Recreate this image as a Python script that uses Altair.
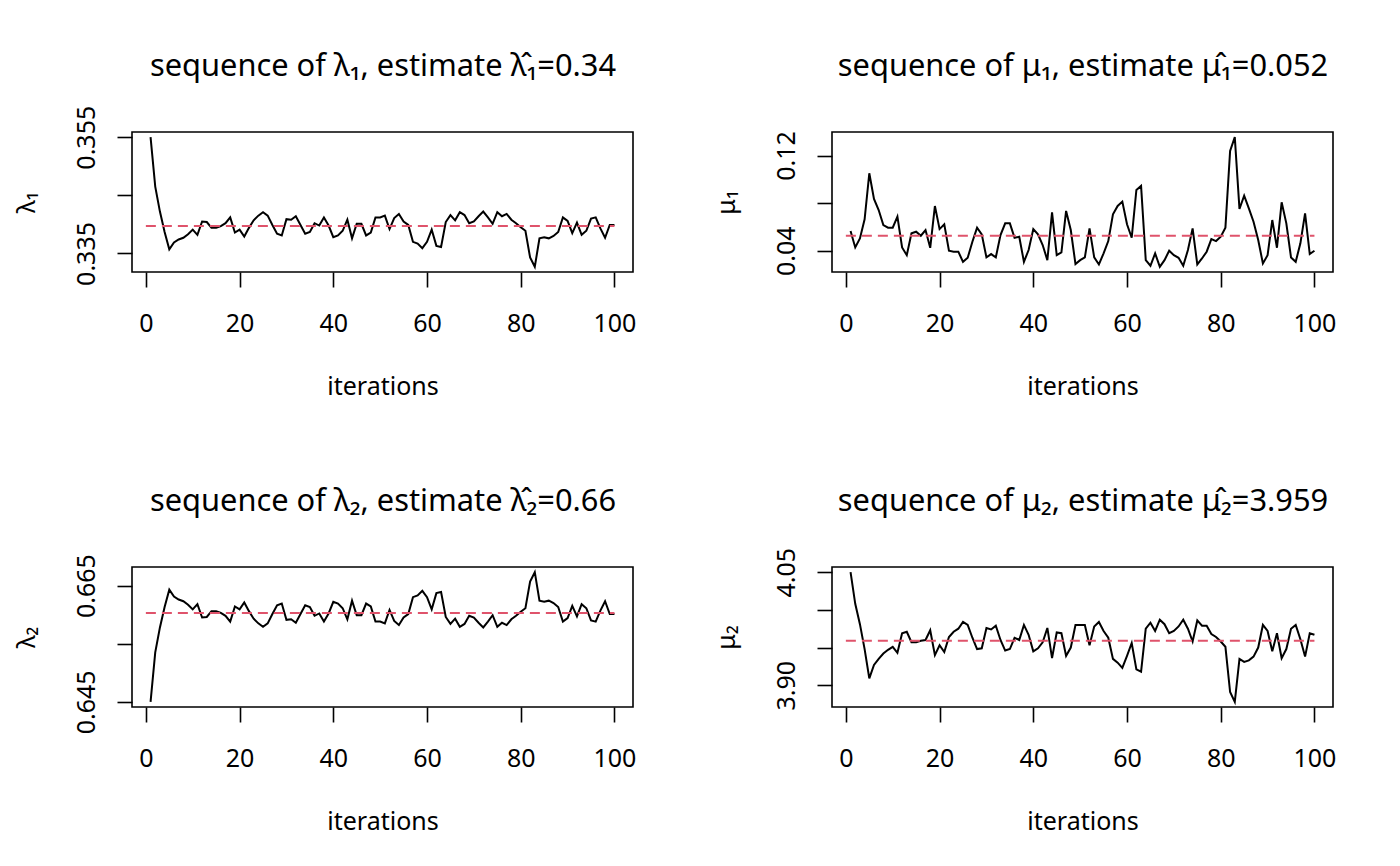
import altair as alt
import pandas as pd

iterations = list(range(1, 101))

lambda1 = [0.3550,0.3465,0.3422,0.3387,0.3357,0.3369,0.3374,0.3377,0.3383,0.3391,
0.3382,0.3405,0.3404,0.3394,0.3394,0.3397,0.3402,0.3412,0.3386,0.3391,
0.3379,0.3394,0.3407,0.3415,0.3421,0.3415,0.3399,0.3384,0.3381,0.3409,
0.3408,0.3414,0.3399,0.3384,0.3387,0.3402,0.3398,0.3412,0.3398,0.3378,
0.3381,0.3389,0.3408,0.3376,0.3401,0.3401,0.3381,0.3386,0.3412,0.3412,
0.3415,0.3392,0.3411,0.3418,0.3405,0.3399,0.3370,0.3367,0.3359,0.3370,
0.3391,0.3363,0.3361,0.3404,0.3416,0.3407,0.3421,0.3416,0.3402,0.3405,
0.3414,0.3422,0.3412,0.3401,0.3421,0.3414,0.3418,0.3408,0.3402,0.3395,
0.3389,0.3343,0.3327,0.3376,0.3378,0.3376,0.3380,0.3387,0.3412,0.3406,
0.3385,0.3403,0.3382,0.3389,0.3410,0.3412,0.3393,0.3377,0.3399,0.3399]

mu1 = [0.0566,0.0428,0.0504,0.0664,0.1051,0.0835,0.0742,0.0616,0.0594,0.0594,
0.0686,0.0428,0.0363,0.0546,0.0560,0.0526,0.0574,0.0425,0.0776,0.0582,
0.0622,0.0400,0.0392,0.0392,0.0307,0.0341,0.0476,0.0594,0.0538,0.0344,
0.0372,0.0344,0.0532,0.0630,0.0630,0.0509,0.0518,0.0307,0.0406,0.0582,
0.0538,0.0448,0.0321,0.0723,0.0363,0.0386,0.0734,0.0574,0.0288,0.0321,
0.0344,0.0588,0.0344,0.0285,0.0378,0.0481,0.0706,0.0776,0.0813,0.0622,
0.0509,0.0911,0.0945,0.0321,0.0274,0.0378,0.0265,0.0321,0.0400,0.0363,
0.0341,0.0274,0.0406,0.0588,0.0285,0.0335,0.0392,0.0498,0.0481,0.0518,
0.0594,0.1239,0.1354,0.0751,0.0863,0.0756,0.0644,0.0490,0.0293,0.0363,
0.0658,0.0425,0.0807,0.0630,0.0344,0.0307,0.0462,0.0714,0.0372,0.0400]

lambda2 = [0.6450,0.6535,0.6578,0.6613,0.6643,0.6631,0.6626,0.6623,0.6617,0.6609,
0.6618,0.6595,0.6596,0.6606,0.6606,0.6603,0.6598,0.6588,0.6614,0.6609,
0.6621,0.6606,0.6593,0.6585,0.6579,0.6585,0.6601,0.6616,0.6619,0.6591,
0.6592,0.6586,0.6601,0.6616,0.6613,0.6598,0.6602,0.6588,0.6602,0.6622,
0.6619,0.6611,0.6592,0.6624,0.6599,0.6599,0.6619,0.6614,0.6588,0.6588,
0.6585,0.6608,0.6589,0.6582,0.6595,0.6601,0.6630,0.6633,0.6641,0.6630,
0.6609,0.6637,0.6639,0.6596,0.6584,0.6593,0.6579,0.6584,0.6598,0.6595,
0.6586,0.6578,0.6588,0.6599,0.6579,0.6586,0.6582,0.6592,0.6598,0.6605,
0.6611,0.6657,0.6673,0.6624,0.6622,0.6624,0.6620,0.6613,0.6588,0.6594,
0.6615,0.6597,0.6618,0.6611,0.6590,0.6588,0.6607,0.6623,0.6601,0.6601]

mu2 = [4.050,4.008,3.981,3.948,3.909,3.927,3.935,3.942,3.947,3.951,
3.943,3.969,3.971,3.957,3.957,3.959,3.960,3.973,3.940,3.953,
3.944,3.964,3.971,3.975,3.984,3.980,3.963,3.948,3.949,3.976,
3.974,3.979,3.960,3.946,3.948,3.963,3.960,3.980,3.967,3.945,
3.949,3.957,3.976,3.936,3.970,3.969,3.939,3.950,3.980,3.980,
3.980,3.953,3.978,3.984,3.972,3.963,3.935,3.930,3.923,3.939,
3.956,3.921,3.918,3.975,3.983,3.972,3.987,3.981,3.969,3.972,
3.978,3.987,3.975,3.958,3.986,3.979,3.979,3.968,3.964,3.958,
3.951,3.891,3.878,3.935,3.931,3.933,3.938,3.950,3.980,3.972,
3.945,3.969,3.936,3.948,3.975,3.980,3.961,3.938,3.969,3.967]

estimates = [0.3397, 0.0526, 0.6603, 3.959]
titles = ["sequence of λ\u2081, estimate λ\u0302\u2081=0.34",
          "sequence of μ\u2081, estimate μ\u0302\u2081=0.052",
          "sequence of λ\u2082, estimate λ\u0302\u2082=0.66",
          "sequence of μ\u2082, estimate μ\u0302\u2082=3.959"]
ylabels = ["λ\u2081", "μ\u2081", "λ\u2082", "μ\u2082"]
yticks = [[0.335, 0.340, 0.345, 0.350, 0.355],
          [0.04, 0.06, 0.08, 0.10, 0.12],
          [0.645, 0.650, 0.655, 0.660, 0.665],
          [3.90, 3.95, 4.00, 4.05]]
ylabel_shown = [[0.335, 0.355], [0.04, 0.12], [0.645, 0.665], [3.90, 4.05]]
yformats = [".3f", ".2f", ".3f", ".2f"]
xticks = [0, 20, 40, 60, 80, 100]

FONT = "Noto Sans"
FS = 25
PW, PH = 501, 140


def expand(vals):
    lo, hi = min(vals), max(vals)
    pad = 0.04 * (hi - lo)
    return [lo - pad, hi + pad]


def panel(vals, est, title, ylab, ticks, shown, fmt):
    df = pd.DataFrame({"iter": iterations, "value": vals})
    cond = " || ".join(f"abs(datum.value - {v}) < 1e-9" for v in shown)
    xscale = alt.Scale(domain=expand(iterations), nice=False, zero=False)
    yscale = alt.Scale(domain=expand(vals), nice=False, zero=False)
    line = alt.Chart(df).mark_line(color="black", strokeWidth=2).encode(
        x=alt.X("iter:Q", scale=xscale,
                axis=alt.Axis(values=xticks, title="iterations",
                              labelBaseline="middle", labelPadding=36,
                              titleY=114, titleBaseline="middle")),
        y=alt.Y("value:Q", scale=yscale,
                axis=alt.Axis(values=ticks, format=fmt,
                              labelExpr=f"({cond}) ? datum.label : ''",
                              labelAngle=270, labelAlign="center",
                              labelBaseline="middle", labelPadding=31,
                              title=ylab, titleAngle=270, titleX=-106,
                              titleY=PH / 2, titleAlign="center",
                              titleBaseline="middle")),
    )
    rdf = pd.DataFrame({"x0": [0], "x1": [100], "est": [est]})
    rule = alt.Chart(rdf).mark_rule(color="#DF536B", strokeDash=[10, 6],
                                    strokeWidth=2).encode(
        x=alt.X("x0:Q", scale=xscale,
                axis=alt.Axis(orient="top", title=title, labels=False,
                              ticks=False, domain=False, values=[],
                              titleFontSize=30.8, titleX=PW / 2,
                              titleY=-57, titleAlign="center",
                              titleBaseline="alphabetic")),
        x2="x1:Q",
        y=alt.Y("est:Q", scale=yscale))
    return alt.layer(line, rule).resolve_axis(x="independent").properties(
        width=PW, height=PH)


series = [lambda1, mu1, lambda2, mu2]
panels = [panel(series[i], estimates[i], titles[i], ylabels[i], yticks[i],
                ylabel_shown[i], yformats[i]) for i in range(4)]

chart = alt.concat(*panels, columns=2, spacing={"row": 84, "column": 76}).properties(
    padding={"left": 5, "top": 41, "right": 0, "bottom": 0},
    background="white"
).configure_view(stroke="black", strokeWidth=1.6).configure_axis(
    domain=False, grid=False, tickColor="black", tickSize=15, tickWidth=1.6,
    labelFont=FONT, labelFontSize=FS, labelColor="black",
    titleFont=FONT, titleFontSize=FS, titleColor="black", titleFontWeight="normal"
)

chart.save("out.html", embed_options={"renderer": "svg", "actions": False})
